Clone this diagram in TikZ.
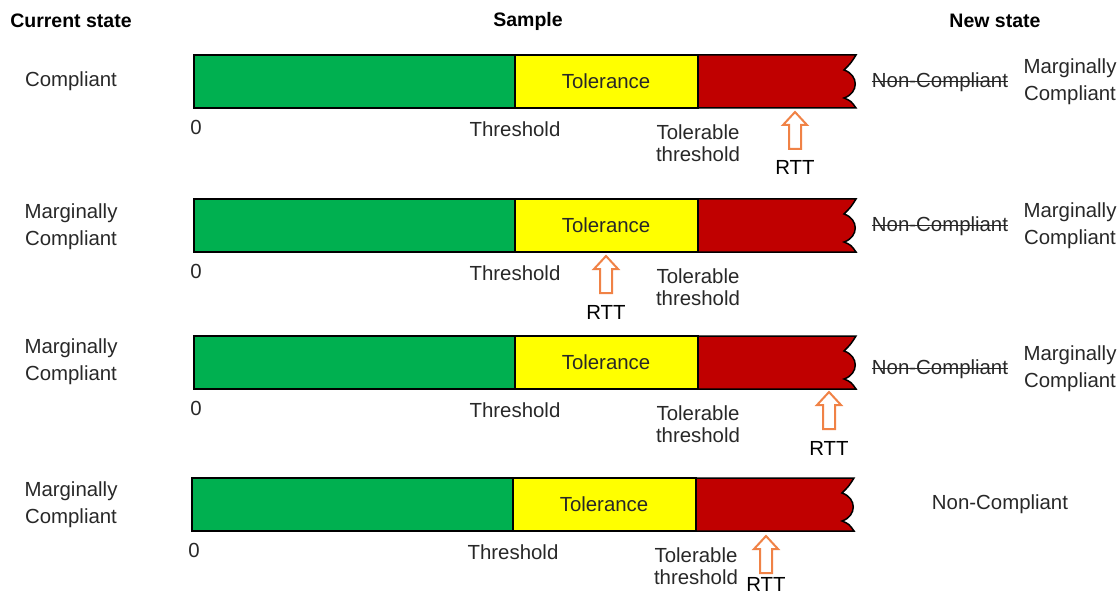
\documentclass[tikz,border=0pt]{standalone}
\usepackage{fontspec}
\setmainfont{Liberation Sans}
\definecolor{barGreen}{RGB}{0,176,80}
\definecolor{barYellow}{RGB}{255,255,0}
\definecolor{barRed}{RGB}{192,0,0}
\definecolor{rttOrange}{RGB}{240,130,70}
\definecolor{ink}{RGB}{40,40,40}
\begin{document}
\begin{tikzpicture}[x=1pt,y=-1pt,
  lbl/.style={text=ink,font=\fontsize{20.4}{27}\selectfont,align=center,inner sep=0pt},
  tight/.style={lbl,font=\fontsize{20.4}{22}\selectfont},
  head/.style={text=black,font=\bfseries\fontsize{19.5}{23}\selectfont,inner sep=0pt},
  seg/.style={draw=black,line width=1.5pt,line join=miter},
  strike/.style={draw=ink,line width=1.3pt},
  rtt/.pic={\draw[rttOrange,line width=2pt,fill=white,line join=miter]
      (0,0) -- (12,13) -- (6,13) -- (6,37) -- (-6,37) -- (-6,13) -- (-12,13) -- cycle;}
]
\useasboundingbox (0,0) rectangle (1119,596);

% column headers
\node[head] (hcur) at (71,21) {Current state};
\node[head] (hsam) at (528,21) {Sample};
\node[head] (hnew) at (995,21) {New state};

% the four sample bars with their fixed labels
\foreach \r/\t/\dx in {1/55/0,2/199/0,3/336/0,4/478/2}{
  \filldraw[seg,fill=barRed] (698-\dx,\t) -- (856-\dx,\t)
      .. controls (851-\dx,\t+8) .. (844-\dx,\t+15)
      .. controls (859-\dx,\t+20) and (859-\dx,\t+38) .. (844-\dx,\t+43)
      .. controls (851-\dx,\t+46) .. (856-\dx,\t+53)
      -- (698-\dx,\t+53) -- cycle;
  \filldraw[seg,fill=barYellow] (515-\dx,\t) rectangle (698-\dx,\t+53);
  \filldraw[seg,fill=barGreen] (194-\dx,\t) rectangle (515-\dx,\t+53);
  \node[lbl] (tol\r) at (606-\dx,\t+26) {Tolerance};
  \node[lbl] (zero\r) at (196-\dx,\t+72) {0};
  \node[lbl] (thr\r) at (515-\dx,\t+74) {Threshold};
  \node[tight] (tt\r) at (698-\dx,\t+88) {Tolerable\\threshold};
}

% current states
\node[lbl] (cur1) at (71,81) {Compliant};
\node[lbl] (cur2) at (71,227) {Marginally\\Compliant};
\node[lbl] (cur3) at (71,362) {Marginally\\Compliant};
\node[lbl] (cur4) at (71,505) {Marginally\\Compliant};

% RTT markers
\pic at (795,112) {rtt};
\node[lbl,text=black] (rtt1) at (795,167) {RTT};
\pic at (606,256) {rtt};
\node[lbl,text=black] (rtt2) at (606,312) {RTT};
\pic at (829,392) {rtt};
\node[lbl,text=black] (rtt3) at (829,448) {RTT};
\pic at (766,536) {rtt};
\node[lbl,text=black] (rtt4) at (766,584) {RTT};

% new states
\foreach \r/\y in {1/82,2/226,3/369}{
  \node[lbl] (nc\r) at (940,\y) {Non-Compliant};
  \draw[strike] ([yshift=6pt]nc\r.base west) -- ([yshift=6pt]nc\r.base east);
  \node[lbl] (new\r) at (1070,\y) {Marginally\\Compliant};
}
\node[lbl] (new4) at (1000,504) {Non-Compliant};
\end{tikzpicture}
\end{document}
